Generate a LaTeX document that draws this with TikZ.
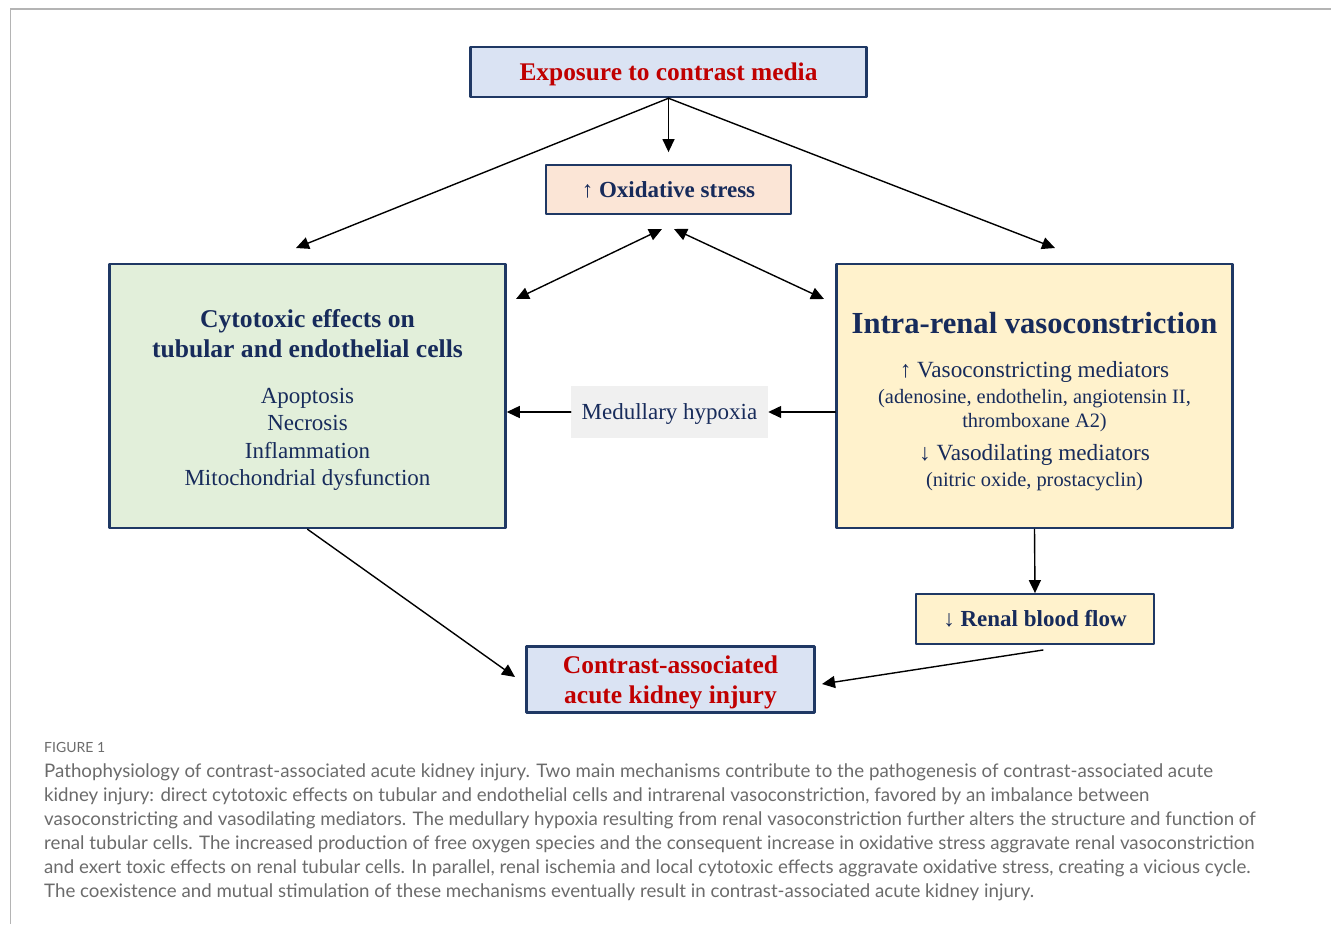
\documentclass[tikz,border=0pt]{standalone}
\usepackage{fontspec}
\setmainfont{Liberation Serif}
\newfontfamily\capfont{Lato}
\usetikzlibrary{arrows.meta}
\definecolor{navy}{HTML}{1F3864}
\definecolor{navytext}{HTML}{172B5B}
\definecolor{redtext}{HTML}{C00000}
\definecolor{bluefill}{HTML}{DAE3F3}
\definecolor{peachfill}{HTML}{FBE5D6}
\definecolor{greenfill}{HTML}{E2EFDA}
\definecolor{yellowfill}{HTML}{FFF2CC}
\definecolor{grayfill}{HTML}{F0F0F0}
\definecolor{capgray}{HTML}{6B6B6B}
\definecolor{framegray}{HTML}{B4B4B4}

\begin{document}
\begin{tikzpicture}[line cap=round,line join=round,>={Triangle[length=13pt,width=12pt]},x=1pt,y=-1pt,
  box/.style={draw=navy,line width=2.5pt,inner sep=0pt,align=center,text=navytext},
  thinbox/.style={box,line width=1.8pt},
  link/.style={->,line width=1.4pt},
  caption/.style={anchor=base west,inner sep=0pt,text=capgray,font=\capfont\fontsize{18.7}{24}\selectfont}]

\useasboundingbox (0,0) rectangle (1331,924);

% frame
\draw[framegray,line width=1.5pt,line cap=butt] (10,9) -- (1331,9);
\draw[framegray,line width=1pt,line cap=butt] (10,9) -- (10,924);

% boxes
\node[box,fill=bluefill,text=redtext,minimum width=396pt,minimum height=50pt,text depth=0pt,font=\fontsize{25.4}{30}\selectfont\bfseries] (expo) at (668.5,72) {Exposure to contrast media};
\node[thinbox,fill=peachfill,minimum width=245pt,minimum height=49pt,font=\fontsize{23}{27}\selectfont\bfseries] (oxi) at (668.5,189.5) {↑ Oxidative stress};
\node[box,fill=greenfill,text width=396pt,minimum height=264pt] (cyto) at (307.5,396)
  {\centering\spaceskip=0pt\xspaceskip=0pt
   \fontsize{25.6}{27.5}\selectfont\bfseries\rule{0pt}{26pt}Cytotoxic effects on\\[2.5pt]
   tubular and endothelial cells\\[18.5pt]
   \fontsize{23}{27.5}\selectfont\mdseries Apoptosis\\ Necrosis\\ Inflammation\\ Mitochondrial dysfunction\par};
\node[box,fill=yellowfill,text width=396pt,minimum height=264pt] (intra) at (1034.5,396)
  {\centering\spaceskip=0pt\xspaceskip=0pt
   \fontsize{30.6}{24}\selectfont\bfseries\rule{0pt}{33pt}Intra-renal vasoconstriction\\[20pt]
   \fontsize{23.2}{24}\selectfont\mdseries ↑ Vasoconstricting mediators\\[2pt]
   \fontsize{20.4}{24}\selectfont (adenosine, endothelin, angiotensin II,\\
   thromboxane A2)\\[9pt]
   \fontsize{23.2}{24}\selectfont ↓ Vasodilating mediators\\[2pt]
   \fontsize{20.4}{24}\selectfont (nitric oxide, prostacyclin)\par};
\node[fill=grayfill,inner sep=0pt,minimum width=197pt,minimum height=52pt,text depth=0pt,text=navytext,font=\fontsize{23}{27}\selectfont] (hyp) at (669.5,412) {Medullary hypoxia};
\node[thinbox,fill=yellowfill,minimum width=238pt,minimum height=50pt,font=\fontsize{23}{27}\selectfont\bfseries] (rbf) at (1035,619) {↓ Renal blood flow};
\node[box,fill=bluefill,text=redtext,minimum width=288pt,minimum height=66pt,text depth=0pt,font=\fontsize{25.5}{30}\selectfont\bfseries] (aki) at (670.5,679.5) {Contrast-associated\\acute kidney injury};

% arrows
\coordinate (cyto-in) at (296,248);
\coordinate (intra-in) at (1055,248);
\coordinate (oxi-l) at (662,229);
\coordinate (oxi-r) at (674,229);
\coordinate (cyto-ox) at (516,299);
\coordinate (intra-ox) at (824,299);
\coordinate (rbf-out) at (1043,650);
\coordinate (aki-r) at (822,684);
\coordinate (aki-l) at (515,677);
\draw[link,shorten >=12pt] (expo.south) -- (oxi.north);
\draw[link] (expo.south) -- (cyto-in);
\draw[link] (expo.south) -- (intra-in);
\draw[link,<->] (cyto-ox) -- (oxi-l);
\draw[link,<->] (oxi-r) -- (intra-ox);
\draw[link] (hyp.east -| intra.west) -- (hyp.east);
\draw[link] (hyp.west) -- (hyp.west -| cyto.east);
\draw[link] (intra.south) -- (rbf.north);
\draw[link] (rbf-out) -- (aki-r);
\draw[link] (cyto.south) -- (aki-l);

% caption
\node[caption,font=\capfont\fontsize{14}{16}\selectfont] (fig) at (44,752) {FIGURE 1};
\node[caption] (cap1) at (44,777) {Pathophysiology of contrast-associated acute kidney injury. Two main mechanisms contribute to the pathogenesis of contrast-associated acute};
\node[caption] (cap2) at (44,801) {kidney injury: direct cytotoxic effects on tubular and endothelial cells and intrarenal vasoconstriction, favored by an imbalance between};
\node[caption] (cap3) at (44,825) {vasoconstricting and vasodilating mediators. The medullary hypoxia resulting from renal vasoconstriction further alters the structure and function of};
\node[caption] (cap4) at (44,849) {renal tubular cells. The increased production of free oxygen species and the consequent increase in oxidative stress aggravate renal vasoconstriction};
\node[caption] (cap5) at (44,873) {and exert toxic effects on renal tubular cells. In parallel, renal ischemia and local cytotoxic effects aggravate oxidative stress, creating a vicious cycle.};
\node[caption] (cap6) at (44,897) {The coexistence and mutual stimulation of these mechanisms eventually result in contrast-associated acute kidney injury.};
\end{tikzpicture}
\end{document}
